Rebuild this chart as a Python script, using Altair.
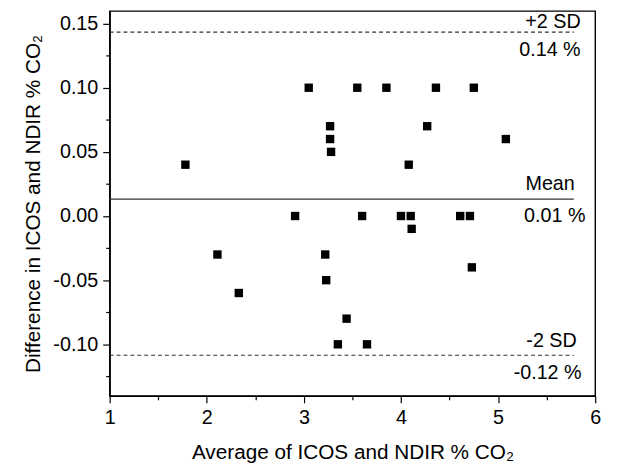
import altair as alt
import pandas as pd

# ---- data ----
avg_x = [3.05, 3.55, 3.85, 4.36, 4.75,
         3.27, 4.27,
         3.27, 5.08,
         3.28,
         1.78, 4.08,
         2.91, 3.60, 4.00, 4.10, 4.61, 4.71,
         4.11,
         2.11, 3.22,
         4.73,
         3.23,
         2.33,
         3.44,
         3.35, 3.65]
diff_y = [0.10, 0.10, 0.10, 0.10, 0.10,
          0.07, 0.07,
          0.06, 0.06,
          0.05,
          0.04, 0.04,
          0.00, 0.00, 0.00, 0.00, 0.00, 0.00,
          -0.01,
          -0.03, -0.03,
          -0.04,
          -0.05,
          -0.06,
          -0.08,
          -0.10, -0.10]

sd_lines = [0.1434, -0.1085]
mean_line = [0.0131]
line_start = 1.0
line_end = 5.78

ann_text = ["+2 SD", "0.14 %", "Mean", "0.01 %", "-2 SD", "-0.12 %"]
ann_x = [5.85, 5.85, 5.79, 5.90, 5.81, 5.86]
ann_y = [0.151, 0.129, 0.0246, 0.0, -0.0977, -0.1223]

x_major = [1, 2, 3, 4, 5, 6]
x_minor = [1.5, 2.5, 3.5, 4.5, 5.5]
y_major = [0.15, 0.10, 0.05, 0.00, -0.05, -0.10]
y_minor = [0.125, 0.075, 0.025, -0.025, -0.075, -0.125]

x_dom = [1, 6]
y_dom = [-0.1402, 0.1598]

FONT = "Liberation Sans"

pts = pd.DataFrame({"x": avg_x, "y": diff_y})
sd_df = pd.DataFrame({"y": sd_lines, "x": [line_start] * len(sd_lines), "x2": [line_end] * len(sd_lines)})
mean_df = pd.DataFrame({"y": mean_line, "x": [line_start], "x2": [line_end]})
ann_df = pd.DataFrame({"t": ann_text, "x": ann_x, "y": ann_y})

xs = alt.Scale(domain=x_dom, nice=False, zero=False)
ys = alt.Scale(domain=y_dom, nice=False, zero=False)

ylabel_expr = "datum.value < 0 ? '-' + format(-datum.value, '.2f') : format(datum.value, '.2f')"

points = alt.Chart(pts).mark_square(size=72, color="black", opacity=1).encode(
    x=alt.X("x:Q", scale=xs,
            axis=alt.Axis(values=x_major, format="d", orient="bottom",
                          title="Average of ICOS and NDIR % CO₂",
                          tickSize=7, labelPadding=5, titlePadding=14,
                          labelFlush=False)),
    y=alt.Y("y:Q", scale=ys,
            axis=alt.Axis(values=y_major, labelExpr=ylabel_expr, orient="left",
                          title="Difference in ICOS and NDIR % CO₂",
                          tickSize=7, labelPadding=5, titlePadding=9,
                          labelFlush=False)),
)

minor = alt.Chart(pts).mark_point(opacity=0).encode(
    x=alt.X("x:Q", scale=xs,
            axis=alt.Axis(values=x_minor, orient="bottom", labels=False, title=None,
                          tickSize=4, domain=False)),
    y=alt.Y("y:Q", scale=ys,
            axis=alt.Axis(values=y_minor, orient="left", labels=False, title=None,
                          tickSize=4, domain=False)),
)

sd = alt.Chart(sd_df).mark_rule(color="#333333", strokeWidth=1.2, strokeDash=[4, 3]).encode(
    x=alt.X("x:Q", scale=xs, axis=None),
    x2="x2:Q",
    y=alt.Y("y:Q", scale=ys, axis=None),
)

mean = alt.Chart(mean_df).mark_rule(color="#333333", strokeWidth=1.3).encode(
    x=alt.X("x:Q", scale=xs, axis=None),
    x2="x2:Q",
    y=alt.Y("y:Q", scale=ys, axis=None),
)

ann = alt.Chart(ann_df).mark_text(align="right", baseline="middle", font=FONT,
                                  fontSize=20, color="black").encode(
    x=alt.X("x:Q", scale=xs, axis=None),
    y=alt.Y("y:Q", scale=ys, axis=None),
    text="t:N",
)

chart = alt.layer(sd, mean, points, minor, ann).resolve_axis(
    x="independent", y="independent"
).properties(
    width=492, height=390,
    padding={"left": 103, "top": 0, "right": 15, "bottom": 69},
    autosize=alt.AutoSizeParams(type="none"),
).configure_view(
    stroke="black", strokeWidth=1.4
).configure_axis(
    grid=False,
    labelFont=FONT, titleFont=FONT,
    labelFontSize=20, titleFontSize=21,
    labelColor="black", titleColor="black",
    titleFontWeight="normal",
    tickColor="black", domainColor="black",
    tickWidth=1.2, domainWidth=1.4,
)

chart.save("out.html", embed_options={"renderer": "svg", "actions": False})
